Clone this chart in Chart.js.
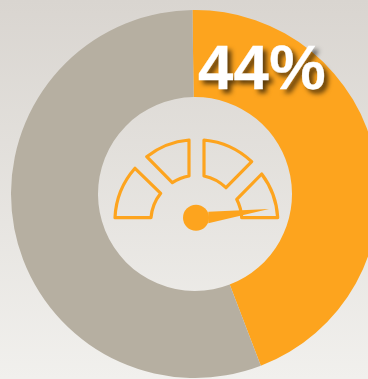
<!DOCTYPE html>
<html lang="en">
<head>
  <meta charset="UTF-8">
  <title>Gauge donut</title>
  <script src="https://cdn.jsdelivr.net/npm/chart.js"></script>
  <style>
    html, body { margin: 0; height: 100%; }
    body { width: 368px; height: 379px; position: relative; overflow: hidden; background: linear-gradient(#d9d5d0, #f1f0ed); }
    #gauge { position: absolute; left: 11px; top: 10px; }
    #pct { position: absolute; left: 198px; top: 31px; font: bold 63.5px/72px "Liberation Sans", Arial, sans-serif; letter-spacing: 0.3px; color: #fff; -webkit-text-stroke: 0.3px #fff; text-shadow: 4px 4px 5px rgba(0,0,0,0.65); white-space: nowrap; }
  </style>
</head>
<body>
  <canvas id="gauge" width="368" height="368"></canvas>
  <div id="pct"></div>

  <script>
    const categories = ['Reached', 'Remaining'];
    const values = [44.4, 55.6];
    const colors = ['#fda41e', '#b6afa1'];

    // Icon outlines, in page pixels
    const iconSegments = [
      'M115 217.7 A80 80 0 0 1 135 168.3 L160.7 193.3 A45 45 0 0 0 151 217.7 Z',
      'M146.7 156.7 A80 80 0 0 1 189 140 L189 176 A45 45 0 0 0 172.3 182.7 Z',
      'M204 140 A80 80 0 0 1 251.7 161.7 L226 187.7 A45 45 0 0 0 204 176 Z',
      'M261.7 174 A80 80 0 0 1 277.7 217.7 L241.7 217.7 A45 45 0 0 0 236.7 199.3 Z'
    ];
    const needle = 'M208.3 211.7 L269 209 L208.3 223.3 Z';

    const gaugeIcon = {
      id: 'gaugeIcon',
      afterDatasetsDraw(chart) {
        const ctx = chart.ctx;
        ctx.save();
        ctx.translate(-11, -10);
        ctx.strokeStyle = colors[0];
        ctx.fillStyle = colors[0];
        ctx.lineWidth = 3.2;
        ctx.lineJoin = 'round';
        iconSegments.forEach(d => ctx.stroke(new Path2D(d)));
        ctx.fill(new Path2D(needle));
        ctx.beginPath();
        ctx.arc(196, 217.7, 13, 0, Math.PI * 2);
        ctx.fill();
        ctx.restore();
      }
    };

    new Chart(document.getElementById('gauge'), {
      type: 'doughnut',
      data: { labels: categories, datasets: [{ data: values, backgroundColor: colors, borderWidth: 0, hoverOffset: 0 }] },
      options: {
        responsive: false,
        animation: false,
        rotation: -0.8,
        cutout: 97,
        layout: { padding: 0 },
        plugins: { legend: { display: false }, tooltip: { enabled: false } }
      },
      plugins: [gaugeIcon]
    });

    document.getElementById('pct').textContent = Math.round(values[0]) + '%';
  </script>
</body>
</html>
